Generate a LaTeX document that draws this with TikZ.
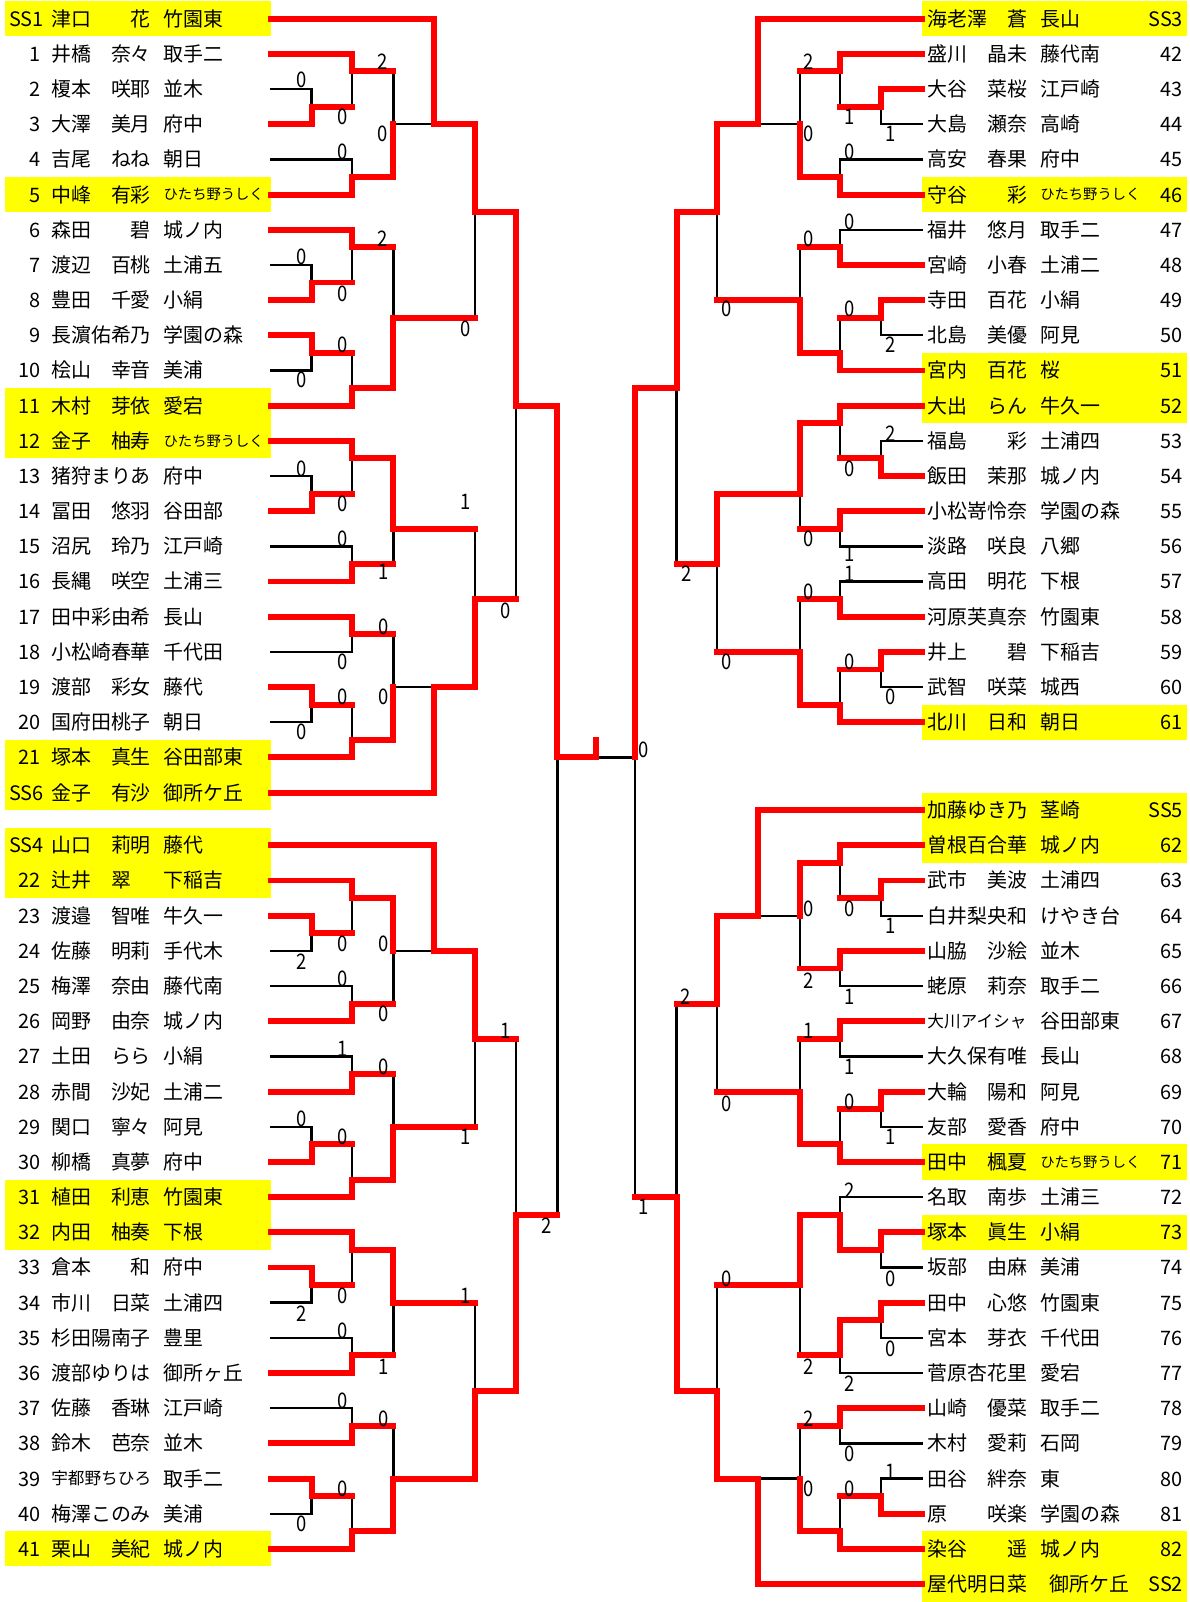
\documentclass[tikz,border=0pt]{standalone}
\usepackage{graphicx}
\usepackage{fontspec}
\setmainfont{Noto Sans CJK JP}
\definecolor{brRed}{RGB}{255,0,0}
\definecolor{hiY}{RGB}{255,255,0}
\newcommand\rowfont{\fontsize{19.5}{20}\selectfont}
\newcommand\scorefont{\fontsize{21}{21}\selectfont}
\newcommand\SmallSchool[1]{{\fontsize{14}{14}\selectfont\raisebox{2.1pt}{#1}}}
\newcommand\SmallName[1]{{\fontsize{16.3}{17}\selectfont\raisebox{1.2pt}{#1}}}
\def\lxO{265}\def\lxA{305}\def\lxB{344.5}\def\lxC{385}\def\lxD{425}\def\lxE{465}\def\lxF{505}\def\lxG{545.5}\def\lxH{583}
\def\rxO{902.5}\def\rxA{862.6}\def\rxB{822.3}\def\rxC{782.8}\def\rxD{742}\def\rxE{701.8}\def\rxF{662.3}\def\cxC{621.6}
\newcommand\LRow[5]{%
 \coordinate (eL#1) at (\lxO,#2);
 \node[rowtxt,anchor=east] (nL#1) at (39.5,#2) {#3};
 \node[rowtxt,anchor=west] (aL#1) at (50,#2) {#4};
 \node[rowtxt,anchor=west] (sL#1) at (160,#2) {#5};}
\newcommand\LRowS[5]{%
 \coordinate (eL#1) at (\lxO,#2);
 \node[rowtxt,anchor=west] (nL#1) at (9,#2) {#3};
 \node[rowtxt,anchor=west] (aL#1) at (50,#2) {#4};
 \node[rowtxt,anchor=west] (sL#1) at (160,#2) {#5};}
\newcommand\RRow[5]{%
 \coordinate (eR#1) at (\rxO,#2);
 \node[rowtxt,anchor=west] (aR#1) at (907.5,#2) {#4};
 \node[rowtxt,anchor=west] (sR#1) at (1018,#2) {#5};
 \node[rowtxt,anchor=east] (nR#1) at (1158,#2) {#3};}
\newcommand\ScoreAt[4]{\node[score] (#1) at (#2,#3) {\scalebox{0.86}[1]{#4}};}
\begin{document}
\begin{tikzpicture}[x=1pt,y=-34.43pt,
 rowtxt/.style={font=\rowfont,inner sep=0pt,text height=16.2pt,text depth=1.6pt},
 score/.style={font=\scorefont,inner sep=0pt,text height=15.4pt,text depth=0pt},
 lose/.style={draw=black,line width=2.3pt,line cap=rect},
 win/.style={draw=brRed,line width=5.8pt,line cap=rect,line join=miter},
 hl/.style={fill=hiY}]
\useasboundingbox (0,-0.5315) rectangle (1164,45.0102);
% yellow highlights
\fill[hl] (5,-0.5) rectangle (265,0.5);
\fill[hl] (5,4.5) rectangle (265,5.5);
\fill[hl] (5,10.5) rectangle (265,12.5);
\fill[hl] (5,20.5) rectangle (265,22.5);
\fill[hl] (5,23) rectangle (265,25);
\fill[hl] (5,33) rectangle (265,35);
\fill[hl] (5,43) rectangle (265,44);
\fill[hl] (902.5,-0.5) rectangle (1162,0.5);
\fill[hl] (902.5,4.5) rectangle (1162,5.5);
\fill[hl] (902.5,9.5) rectangle (1162,11.5);
\fill[hl] (902.5,19.5) rectangle (1162,20.5);
\fill[hl] (902.5,22) rectangle (1162,24);
\fill[hl] (902.5,32) rectangle (1162,33);
\fill[hl] (902.5,34) rectangle (1162,35);
\fill[hl] (902.5,43) rectangle (1162,45);
% left rows
\LRowS{SS1}{0}{SS1}{津口　　花}{竹園東}
\LRow{1}{1}{1}{井橋　奈々}{取手二}
\LRow{2}{2}{2}{榎本　咲耶}{並木}
\LRow{3}{3}{3}{大澤　美月}{府中}
\LRow{4}{4}{4}{吉尾　ねね}{朝日}
\LRow{5}{5}{5}{中峰　有彩}{\SmallSchool{ひたち野うしく}}
\LRow{6}{6}{6}{森田　　碧}{城ノ内}
\LRow{7}{7}{7}{渡辺　百桃}{土浦五}
\LRow{8}{8}{8}{豊田　千愛}{小絹}
\LRow{9}{9}{9}{長濵佑希乃}{学園の森}
\LRow{10}{10}{10}{桧山　幸音}{美浦}
\LRow{11}{11}{11}{木村　芽依}{愛宕}
\LRow{12}{12}{12}{金子　柚寿}{\SmallSchool{ひたち野うしく}}
\LRow{13}{13}{13}{猪狩まりあ}{府中}
\LRow{14}{14}{14}{冨田　悠羽}{谷田部}
\LRow{15}{15}{15}{沼尻　玲乃}{江戸崎}
\LRow{16}{16}{16}{長縄　咲空}{土浦三}
\LRow{17}{17}{17}{田中彩由希}{長山}
\LRow{18}{18}{18}{小松崎春華}{千代田}
\LRow{19}{19}{19}{渡部　彩女}{藤代}
\LRow{20}{20}{20}{国府田桃子}{朝日}
\LRow{21}{21}{21}{塚本　真生}{谷田部東}
\LRowS{SS6}{22}{SS6}{金子　有沙}{御所ケ丘}
\LRowS{SS4}{23.5}{SS4}{山口　莉明}{藤代}
\LRow{22}{24.5}{22}{辻井　翠　}{下稲吉}
\LRow{23}{25.5}{23}{渡邉　智唯}{牛久一}
\LRow{24}{26.5}{24}{佐藤　明莉}{手代木}
\LRow{25}{27.5}{25}{梅澤　奈由}{藤代南}
\LRow{26}{28.5}{26}{岡野　由奈}{城ノ内}
\LRow{27}{29.5}{27}{土田　らら}{小絹}
\LRow{28}{30.5}{28}{赤間　沙妃}{土浦二}
\LRow{29}{31.5}{29}{関口　寧々}{阿見}
\LRow{30}{32.5}{30}{柳橋　真夢}{府中}
\LRow{31}{33.5}{31}{植田　利恵}{竹園東}
\LRow{32}{34.5}{32}{内田　柚奏}{下根}
\LRow{33}{35.5}{33}{倉本　　和}{府中}
\LRow{34}{36.5}{34}{市川　日菜}{土浦四}
\LRow{35}{37.5}{35}{杉田陽南子}{豊里}
\LRow{36}{38.5}{36}{渡部ゆりは}{御所ヶ丘}
\LRow{37}{39.5}{37}{佐藤　香琳}{江戸崎}
\LRow{38}{40.5}{38}{鈴木　芭奈}{並木}
\LRow{39}{41.5}{39}{\SmallName{宇都野ちひろ}}{取手二}
\LRow{40}{42.5}{40}{梅澤このみ}{美浦}
\LRow{41}{43.5}{41}{栗山　美紀}{城ノ内}
% right rows
\RRow{SS3}{0}{SS3}{海老澤　蒼}{長山}
\RRow{42}{1}{42}{盛川　晶未}{藤代南}
\RRow{43}{2}{43}{大谷　菜桜}{江戸崎}
\RRow{44}{3}{44}{大島　瀬奈}{高崎}
\RRow{45}{4}{45}{高安　春果}{府中}
\RRow{46}{5}{46}{守谷　　彩}{\SmallSchool{ひたち野うしく}}
\RRow{47}{6}{47}{福井　悠月}{取手二}
\RRow{48}{7}{48}{宮崎　小春}{土浦二}
\RRow{49}{8}{49}{寺田　百花}{小絹}
\RRow{50}{9}{50}{北島　美優}{阿見}
\RRow{51}{10}{51}{宮内　百花}{桜}
\RRow{52}{11}{52}{大出　らん}{牛久一}
\RRow{53}{12}{53}{福島　　彩}{土浦四}
\RRow{54}{13}{54}{飯田　茉那}{城ノ内}
\RRow{55}{14}{55}{小松嵜怜奈}{学園の森}
\RRow{56}{15}{56}{淡路　咲良}{八郷}
\RRow{57}{16}{57}{高田　明花}{下根}
\RRow{58}{17}{58}{河原芙真奈}{竹園東}
\RRow{59}{18}{59}{井上　　碧}{下稲吉}
\RRow{60}{19}{60}{武智　咲菜}{城西}
\RRow{61}{20}{61}{北川　日和}{朝日}
\RRow{SS5}{22.5}{SS5}{加藤ゆき乃}{茎崎}
\RRow{62}{23.5}{62}{曽根百合華}{城ノ内}
\RRow{63}{24.5}{63}{武市　美波}{土浦四}
\RRow{64}{25.5}{64}{白井梨央和}{けやき台}
\RRow{65}{26.5}{65}{山脇　沙絵}{並木}
\RRow{66}{27.5}{66}{蛯原　莉奈}{取手二}
\RRow{67}{28.5}{67}{\SmallName{大川アイシャ}}{谷田部東}
\RRow{68}{29.5}{68}{大久保有唯}{長山}
\RRow{69}{30.5}{69}{大輪　陽和}{阿見}
\RRow{70}{31.5}{70}{友部　愛香}{府中}
\RRow{71}{32.5}{71}{田中　楓夏}{\SmallSchool{ひたち野うしく}}
\RRow{72}{33.5}{72}{名取　南歩}{土浦三}
\RRow{73}{34.5}{73}{塚本　眞生}{小絹}
\RRow{74}{35.5}{74}{坂部　由麻}{美浦}
\RRow{75}{36.5}{75}{田中　心悠}{竹園東}
\RRow{76}{37.5}{76}{宮本　芽衣}{千代田}
\RRow{77}{38.5}{77}{菅原杏花里}{愛宕}
\RRow{78}{39.5}{78}{山崎　優菜}{取手二}
\RRow{79}{40.5}{79}{木村　愛莉}{石岡}
\RRow{80}{41.5}{80}{田谷　絆奈}{東}
\RRow{81}{42.5}{81}{原　　咲楽}{学園の森}
\RRow{82}{43.5}{82}{染谷　　遥}{城ノ内}
\coordinate (eRSS2) at (\rxO,44.5);
\node[rowtxt,anchor=west] (aRSS2) at (907.5,44.5) {屋代明日菜};
\node[rowtxt,anchor=west] (sRSS2) at (1027,44.5) {御所ケ丘};
\node[rowtxt,anchor=east] (nRSS2) at (1158,44.5) {SS2};
% ---------- black (losing) lines, left
\draw[lose] (eL2) -- (\lxA,2) -- (\lxA,2.5);
\draw[lose] (eL4) -- (\lxB,4) -- (\lxB,4.5);
\draw[lose] (\lxB,1.5) -- (\lxB,2.5);
\draw[lose] (\lxC,1.5) -- (\lxC,3) -- (\lxD,3);
\draw[lose] (eL7) -- (\lxA,7) -- (\lxA,7.5);
\draw[lose] (\lxB,6.5) -- (\lxB,7.5);
\draw[lose] (eL10) -- (\lxA,10) -- (\lxA,9.5);
\draw[lose] (\lxB,9.5) -- (\lxB,10.5);
\draw[lose] (\lxC,6.5) -- (\lxC,8.5);
\draw[lose] (\lxE,5.5) -- (\lxE,8.5);
\draw[lose] (\lxF,11) -- (\lxF,16.5);
\draw[lose] (eL13) -- (\lxA,13) -- (\lxA,13.5);
\draw[lose] (\lxB,12.5) -- (\lxB,13.5);
\draw[lose] (eL15) -- (\lxB,15) -- (\lxB,15.5);
\draw[lose] (\lxC,14.5) -- (\lxC,15.5);
\draw[lose] (\lxE,14.5) -- (\lxE,16.5);
\draw[lose] (eL18) -- (\lxB,18) -- (\lxB,17.5);
\draw[lose] (\lxC,17.5) -- (\lxC,19) -- (\lxD,19);
\draw[lose] (eL20) -- (\lxA,20) -- (\lxA,19.5);
\draw[lose] (\lxB,19.5) -- (\lxB,20.5);
\draw[lose] (\lxG,21) -- (\lxG,34);
\draw[lose] (\lxH,21) -- (\cxC,21);
\draw[lose] (eL24) -- (\lxA,26.5) -- (\lxA,26);
\draw[lose] (\lxB,25) -- (\lxB,26);
\draw[lose] (eL25) -- (\lxB,27.5) -- (\lxB,28);
\draw[lose] (\lxC,28) -- (\lxC,26.5) -- (\lxD,26.5);
\draw[lose] (\lxE,29) -- (\lxE,31.5);
\draw[lose] (\lxF,29) -- (\lxF,34);
\draw[lose] (eL27) -- (\lxB,29.5) -- (\lxB,30);
\draw[lose] (\lxC,30) -- (\lxC,31.5);
\draw[lose] (eL29) -- (\lxA,31.5) -- (\lxA,32);
\draw[lose] (\lxB,32) -- (\lxB,33);
\draw[lose] (\lxB,35) -- (\lxB,36);
\draw[lose] (eL34) -- (\lxA,36.5) -- (\lxA,36);
\draw[lose] (eL35) -- (\lxB,37.5) -- (\lxB,38);
\draw[lose] (\lxC,36.5) -- (\lxC,38);
\draw[lose] (\lxE,36.5) -- (\lxE,39);
\draw[lose] (eL37) -- (\lxB,39.5) -- (\lxB,40);
\draw[lose] (\lxC,40) -- (\lxC,41.5);
\draw[lose] (eL40) -- (\lxA,42.5) -- (\lxA,42);
\draw[lose] (\lxB,42) -- (\lxB,43);
% ---------- black lines, right
\draw[lose] (\rxC,1.5) -- (\rxC,3) -- (\rxD,3);
\draw[lose] (eR44) -- (\rxA,3) -- (\rxA,2.5);
\draw[lose] (\rxB,1.5) -- (\rxB,2.5);
\draw[lose] (eR45) -- (\rxB,4) -- (\rxB,4.5);
\draw[lose] (\rxE,5.5) -- (\rxE,8);
\draw[lose] (eR47) -- (\rxB,6) -- (\rxB,6.5);
\draw[lose] (\rxC,6.5) -- (\rxC,8);
\draw[lose] (eR50) -- (\rxA,9) -- (\rxA,8.5);
\draw[lose] (\rxB,8.5) -- (\rxB,9.5);
\draw[lose] (\rxF,10.5) -- (\rxF,15.5);
\draw[lose] (eR53) -- (\rxA,12) -- (\rxA,12.5);
\draw[lose] (\rxB,11.5) -- (\rxB,12.5);
\draw[lose] (\rxC,13.5) -- (\rxC,14.5);
\draw[lose] (eR56) -- (\rxB,15) -- (\rxB,14.5);
\draw[lose] (\rxE,15.5) -- (\rxE,18);
\draw[lose] (eR57) -- (\rxB,16) -- (\rxB,16.5);
\draw[lose] (\rxC,16.5) -- (\rxC,18);
\draw[lose] (eR60) -- (\rxA,19) -- (\rxA,18.5);
\draw[lose] (\rxB,18.5) -- (\rxB,19.5);
\draw[lose] (\cxC,21) -- (\cxC,33.5);
\draw[lose] (\rxC,27) -- (\rxC,25.5) -- (\rxD,25.5);
\draw[lose] (eR64) -- (\rxA,25.5) -- (\rxA,25);
\draw[lose] (\rxB,24) -- (\rxB,25);
\draw[lose] (eR66) -- (\rxB,27.5) -- (\rxB,27);
\draw[lose] (\rxE,28) -- (\rxE,30.5);
\draw[lose] (\rxF,28) -- (\rxF,33.5);
\draw[lose] (eR68) -- (\rxB,29.5) -- (\rxB,29);
\draw[lose] (\rxC,29) -- (\rxC,30.5);
\draw[lose] (eR70) -- (\rxA,31.5) -- (\rxA,31);
\draw[lose] (\rxB,31) -- (\rxB,32);
\draw[lose] (eR72) -- (\rxB,33.5) -- (\rxB,34);
\draw[lose] (eR74) -- (\rxA,35.5) -- (\rxA,35);
\draw[lose] (\rxC,36) -- (\rxC,38);
\draw[lose] (\rxE,36) -- (\rxE,39);
\draw[lose] (eR76) -- (\rxA,37.5) -- (\rxA,37);
\draw[lose] (eR77) -- (\rxB,38.5) -- (\rxB,38);
\draw[lose] (eR79) -- (\rxB,40.5) -- (\rxB,40);
\draw[lose] (\rxC,40) -- (\rxC,41.5) -- (\rxD,41.5);
\draw[lose] (eR80) -- (\rxA,41.5) -- (\rxA,42);
\draw[lose] (\rxB,42) -- (\rxB,43);
% ---------- red (winning) lines, left
\draw[win] (eLSS1) -- (\lxD,0) -- (\lxD,3) -- (\lxE,3) -- (\lxE,5.5) -- (\lxF,5.5) -- (\lxF,11) -- (\lxG,11) -- (\lxG,21) -- (\lxH,21) -- (\lxH,20.5);
\draw[win] (eL1) -- (\lxB,1) -- (\lxB,1.5) -- (\lxC,1.5);
\draw[win] (eL3) -- (\lxA,3) -- (\lxA,2.5) -- (\lxB,2.5);
\draw[win] (eL5) -- (\lxB,5) -- (\lxB,4.5) -- (\lxC,4.5) -- (\lxC,3);
\draw[win] (eL6) -- (\lxB,6) -- (\lxB,6.5) -- (\lxC,6.5);
\draw[win] (eL8) -- (\lxA,8) -- (\lxA,7.5) -- (\lxB,7.5);
\draw[win] (eL9) -- (\lxA,9) -- (\lxA,9.5) -- (\lxB,9.5);
\draw[win] (eL11) -- (\lxB,11) -- (\lxB,10.5) -- (\lxC,10.5) -- (\lxC,8.5) -- (\lxE,8.5);
\draw[win] (eL12) -- (\lxB,12) -- (\lxB,12.5) -- (\lxC,12.5) -- (\lxC,14.5) -- (\lxE,14.5);
\draw[win] (eL14) -- (\lxA,14) -- (\lxA,13.5) -- (\lxB,13.5);
\draw[win] (eL16) -- (\lxB,16) -- (\lxB,15.5) -- (\lxC,15.5);
\draw[win] (eL17) -- (\lxB,17) -- (\lxB,17.5) -- (\lxC,17.5);
\draw[win] (eL19) -- (\lxA,19) -- (\lxA,19.5) -- (\lxB,19.5);
\draw[win] (eL21) -- (\lxB,21) -- (\lxB,20.5) -- (\lxC,20.5) -- (\lxC,19);
\draw[win] (eLSS6) -- (\lxD,22) -- (\lxD,19) -- (\lxE,19) -- (\lxE,16.5) -- (\lxF,16.5);
\draw[win] (eLSS4) -- (\lxD,23.5) -- (\lxD,26.5) -- (\lxE,26.5) -- (\lxE,29) -- (\lxF,29);
\draw[win] (eL22) -- (\lxB,24.5) -- (\lxB,25) -- (\lxC,25) -- (\lxC,26.5);
\draw[win] (eL23) -- (\lxA,25.5) -- (\lxA,26) -- (\lxB,26);
\draw[win] (eL26) -- (\lxB,28.5) -- (\lxB,28) -- (\lxC,28);
\draw[win] (eL28) -- (\lxB,30.5) -- (\lxB,30) -- (\lxC,30);
\draw[win] (eL30) -- (\lxA,32.5) -- (\lxA,32) -- (\lxB,32);
\draw[win] (eL31) -- (\lxB,33.5) -- (\lxB,33) -- (\lxC,33) -- (\lxC,31.5) -- (\lxE,31.5);
\draw[win] (eL32) -- (\lxB,34.5) -- (\lxB,35) -- (\lxC,35) -- (\lxC,36.5) -- (\lxE,36.5);
\draw[win] (eL33) -- (\lxA,35.5) -- (\lxA,36) -- (\lxB,36);
\draw[win] (eL36) -- (\lxB,38.5) -- (\lxB,38) -- (\lxC,38);
\draw[win] (eL38) -- (\lxB,40.5) -- (\lxB,40) -- (\lxC,40);
\draw[win] (eL39) -- (\lxA,41.5) -- (\lxA,42) -- (\lxB,42);
\draw[win] (eL41) -- (\lxB,43.5) -- (\lxB,43) -- (\lxC,43) -- (\lxC,41.5) -- (\lxE,41.5) -- (\lxE,39) -- (\lxF,39) -- (\lxF,34) -- (\lxG,34);
% ---------- red lines, right
\draw[win] (eRSS3) -- (\rxD,0) -- (\rxD,3) -- (\rxE,3) -- (\rxE,5.5) -- (\rxF,5.5) -- (\rxF,10.5) -- (\cxC,10.5) -- (\cxC,21);
\draw[win] (eR42) -- (\rxB,1) -- (\rxB,1.5) -- (\rxC,1.5);
\draw[win] (eR43) -- (\rxA,2) -- (\rxA,2.5) -- (\rxB,2.5);
\draw[win] (eR46) -- (\rxB,5) -- (\rxB,4.5) -- (\rxC,4.5) -- (\rxC,3);
\draw[win] (eR48) -- (\rxB,7) -- (\rxB,6.5) -- (\rxC,6.5);
\draw[win] (eR49) -- (\rxA,8) -- (\rxA,8.5) -- (\rxB,8.5);
\draw[win] (eR51) -- (\rxB,10) -- (\rxB,9.5) -- (\rxC,9.5) -- (\rxC,8) -- (\rxE,8);
\draw[win] (eR52) -- (\rxB,11) -- (\rxB,11.5) -- (\rxC,11.5) -- (\rxC,13.5) -- (\rxE,13.5) -- (\rxE,15.5) -- (\rxF,15.5);
\draw[win] (eR54) -- (\rxA,13) -- (\rxA,12.5) -- (\rxB,12.5);
\draw[win] (eR55) -- (\rxB,14) -- (\rxB,14.5) -- (\rxC,14.5);
\draw[win] (eR58) -- (\rxB,17) -- (\rxB,16.5) -- (\rxC,16.5);
\draw[win] (eR59) -- (\rxA,18) -- (\rxA,18.5) -- (\rxB,18.5);
\draw[win] (eR61) -- (\rxB,20) -- (\rxB,19.5) -- (\rxC,19.5) -- (\rxC,18) -- (\rxE,18);
\draw[win] (eRSS5) -- (\rxD,22.5) -- (\rxD,25.5) -- (\rxE,25.5) -- (\rxE,28) -- (\rxF,28);
\draw[win] (eR62) -- (\rxB,23.5) -- (\rxB,24) -- (\rxC,24) -- (\rxC,25.5);
\draw[win] (eR63) -- (\rxA,24.5) -- (\rxA,25) -- (\rxB,25);
\draw[win] (eR65) -- (\rxB,26.5) -- (\rxB,27) -- (\rxC,27);
\draw[win] (eR67) -- (\rxB,28.5) -- (\rxB,29) -- (\rxC,29);
\draw[win] (eR69) -- (\rxA,30.5) -- (\rxA,31) -- (\rxB,31);
\draw[win] (eR71) -- (\rxB,32.5) -- (\rxB,32) -- (\rxC,32) -- (\rxC,30.5) -- (\rxE,30.5);
\draw[win] (eR73) -- (\rxA,34.5) -- (\rxA,35) -- (\rxB,35) -- (\rxB,34) -- (\rxC,34) -- (\rxC,36) -- (\rxE,36);
\draw[win] (eR75) -- (\rxA,36.5) -- (\rxA,37) -- (\rxB,37) -- (\rxB,38) -- (\rxC,38);
\draw[win] (eR78) -- (\rxB,39.5) -- (\rxB,40) -- (\rxC,40);
\draw[win] (eR81) -- (\rxA,42.5) -- (\rxA,42) -- (\rxB,42);
\draw[win] (eR82) -- (\rxB,43.5) -- (\rxB,43) -- (\rxC,43) -- (\rxC,41.5);
\draw[win] (eRSS2) -- (\rxD,44.5) -- (\rxD,41.5) -- (\rxE,41.5) -- (\rxE,39) -- (\rxF,39) -- (\rxF,33.5) -- (\cxC,33.5);
% ---------- scores, left
\ScoreAt{sa1}{374.6}{1.223}{2}
\ScoreAt{sa2}{295.6}{1.743}{0}
\ScoreAt{sa3}{335}{2.785}{0}
\ScoreAt{sa4}{374.6}{3.259}{0}
\ScoreAt{sa5}{335}{3.782}{0}
\ScoreAt{sa6}{374.6}{6.245}{2}
\ScoreAt{sa7}{295.6}{6.767}{0}
\ScoreAt{sa8}{335}{7.810}{0}
\ScoreAt{sa9}{455.6}{8.803}{0}
\ScoreAt{sa10}{335}{9.277}{0}
\ScoreAt{sa11}{295.6}{10.273}{0}
\ScoreAt{sa12}{295.6}{12.785}{0}
\ScoreAt{sa13}{335}{13.781}{0}
\ScoreAt{sa14}{455.6}{13.732}{1}
\ScoreAt{sa15}{335}{14.775}{0}
\ScoreAt{sa16}{375.4}{15.722}{1}
\ScoreAt{sa17}{495}{16.814}{0}
\ScoreAt{sa18}{375.4}{17.287}{0}
\ScoreAt{sa19}{335}{18.283}{0}
\ScoreAt{sa20}{335}{19.277}{0}
\ScoreAt{sa21}{375.4}{19.277}{0}
\ScoreAt{sa22}{295.6}{20.273}{0}
\ScoreAt{sa23}{335}{26.291}{0}
\ScoreAt{sa24}{375.4}{26.291}{0}
\ScoreAt{sa25}{295.6}{26.811}{2}
\ScoreAt{sa26}{335}{27.287}{0}
\ScoreAt{sa27}{375.4}{28.281}{0}
\ScoreAt{sa28}{495}{28.754}{1}
\ScoreAt{sa29}{335}{29.277}{1}
\ScoreAt{sa30}{375.4}{29.797}{0}
\ScoreAt{sa31}{295.6}{31.266}{0}
\ScoreAt{sa32}{335}{31.786}{0}
\ScoreAt{sa33}{455.6}{31.786}{1}
\ScoreAt{sa34}{534.6}{34.301}{2}
\ScoreAt{sa35}{455.6}{36.291}{1}
\ScoreAt{sa36}{335}{36.291}{0}
\ScoreAt{sa37}{295.6}{36.811}{2}
\ScoreAt{sa38}{335}{37.285}{0}
\ScoreAt{sa39}{375.4}{38.330}{1}
\ScoreAt{sa40}{335}{39.277}{0}
\ScoreAt{sa41}{375.4}{39.797}{0}
\ScoreAt{sa42}{335}{41.786}{0}
\ScoreAt{sa43}{295.6}{42.782}{0}
% ---------- scores, right
\ScoreAt{sb1}{791.5}{1.223}{2}
\ScoreAt{sb2}{831.7}{2.785}{1}
\ScoreAt{sb3}{791.5}{3.259}{0}
\ScoreAt{sb4}{871.3}{3.259}{1}
\ScoreAt{sb5}{831.7}{3.782}{0}
\ScoreAt{sb6}{831.7}{5.771}{0}
\ScoreAt{sb7}{791.5}{6.245}{0}
\ScoreAt{sb8}{711.3}{8.234}{0}
\ScoreAt{sb9}{831.7}{8.234}{0}
\ScoreAt{sb10}{871.3}{9.277}{2}
\ScoreAt{sb11}{871.3}{11.789}{2}
\ScoreAt{sb12}{831.7}{12.785}{0}
\ScoreAt{sb13}{791.5}{14.775}{0}
\ScoreAt{sb14}{831.7}{15.202}{1}
\ScoreAt{sb15}{831.7}{15.771}{1}
\ScoreAt{sb16}{671.7}{15.771}{2}
\ScoreAt{sb17}{791.5}{16.291}{0}
\ScoreAt{sb18}{711.3}{18.283}{0}
\ScoreAt{sb19}{831.7}{18.283}{0}
\ScoreAt{sb20}{871.3}{19.277}{0}
\ScoreAt{sb21}{630.3}{20.793}{0}
\ScoreAt{sb22}{791.5}{25.295}{0}
\ScoreAt{sb23}{831.7}{25.295}{0}
\ScoreAt{sb24}{871.3}{25.771}{1}
\ScoreAt{sb25}{791.5}{27.333}{2}
\ScoreAt{sb26}{831.7}{27.807}{1}
\ScoreAt{sb27}{671}{27.807}{2}
\ScoreAt{sb28}{791.5}{28.754}{1}
\ScoreAt{sb29}{831.7}{29.797}{1}
\ScoreAt{sb30}{831.7}{30.793}{0}
\ScoreAt{sb31}{711.3}{30.840}{0}
\ScoreAt{sb32}{871.3}{31.786}{1}
\ScoreAt{sb33}{831.7}{33.305}{2}
\ScoreAt{sb34}{630.3}{33.779}{1}
\ScoreAt{sb35}{711.3}{35.817}{0}
\ScoreAt{sb36}{871.3}{35.817}{0}
\ScoreAt{sb37}{871.3}{37.806}{0}
\ScoreAt{sb38}{791.5}{38.330}{2}
\ScoreAt{sb39}{831.7}{38.803}{2}
\ScoreAt{sb40}{791.5}{39.797}{2}
\ScoreAt{sb41}{831.7}{40.793}{0}
\ScoreAt{sb42}{871.3}{41.313}{1}
\ScoreAt{sb43}{791.5}{41.786}{0}
\ScoreAt{sb44}{831.7}{41.786}{0}
\end{tikzpicture}
\end{document}
